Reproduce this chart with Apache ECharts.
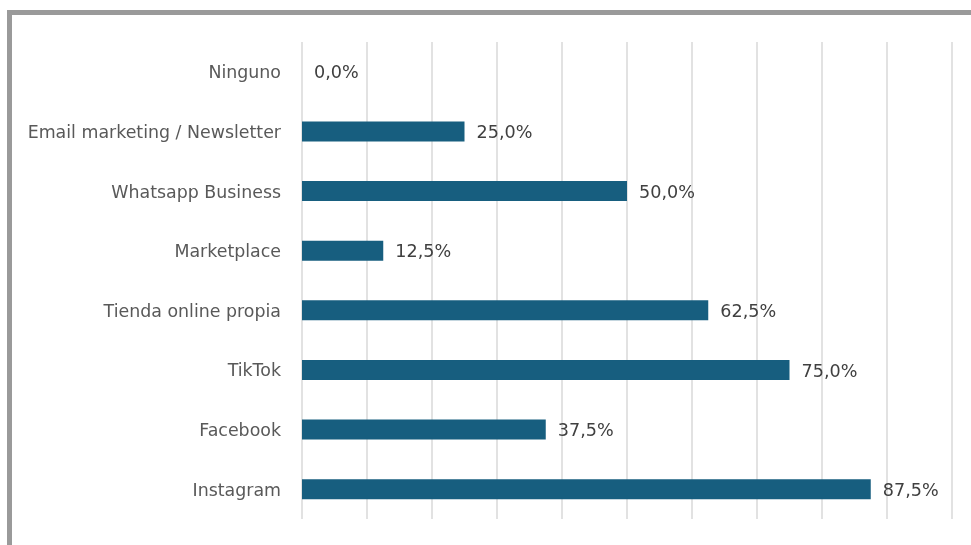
<!DOCTYPE html>
<html>
<head>
<meta charset="utf-8">
<script src="https://cdn.jsdelivr.net/npm/echarts@6/dist/echarts.min.js"></script>
<style>
html,body{margin:0;padding:0;background:#fff;}
#c{width:971px;height:545px;}
</style>
</head>
<body>
<div id="c"></div>
<script>
const categories = ["Instagram","Facebook","TikTok","Tienda online propia","Marketplace","Whatsapp Business","Email marketing / Newsletter","Ninguno"];
const values = [87.5, 37.5, 75.0, 62.5, 12.5, 50.0, 25.0, 0.0];

const chart = echarts.init(document.getElementById('c'), null, {renderer:'canvas'});
chart.setOption({
  animation:false,
  backgroundColor:'#fff',
  graphic:[{
    type:'rect', silent:true, z:-10,
    shape:{x:9.5, y:12.5, width:1000, height:600},
    style:{fill:'none', stroke:'#9a9a9a', lineWidth:5}
  }],
  grid:{left:302, right:19, top:42, bottom:26, containLabel:false},
  xAxis:{
    type:'value', min:0, max:100, interval:10,
    axisLabel:{show:false}, axisTick:{show:false}, axisLine:{show:false},
    splitLine:{show:true, lineStyle:{color:'#d9d9d9', width:1.5}}
  },
  yAxis:{
    type:'category', data:categories,
    axisTick:{show:false},
    axisLine:{show:false},
    axisLabel:{margin:21,
      formatter:v=>'{a|'+v+'}',
      rich:{a:{color:'#595959', fontSize:17.4, fontFamily:'DejaVu Sans', padding:[4,0,0,0]}}}
  },
  series:[{
    type:'bar', data:values, barWidth:20,
    itemStyle:{color:'#175e7f'},
    label:{show:true, position:'right', distance:12, offset:[0,2], color:'#404040', fontSize:17.6, fontFamily:'DejaVu Sans',
      formatter:p=>p.value.toFixed(1).replace('.', ',')+'%'}
  }]
});
</script>
</body>
</html>
